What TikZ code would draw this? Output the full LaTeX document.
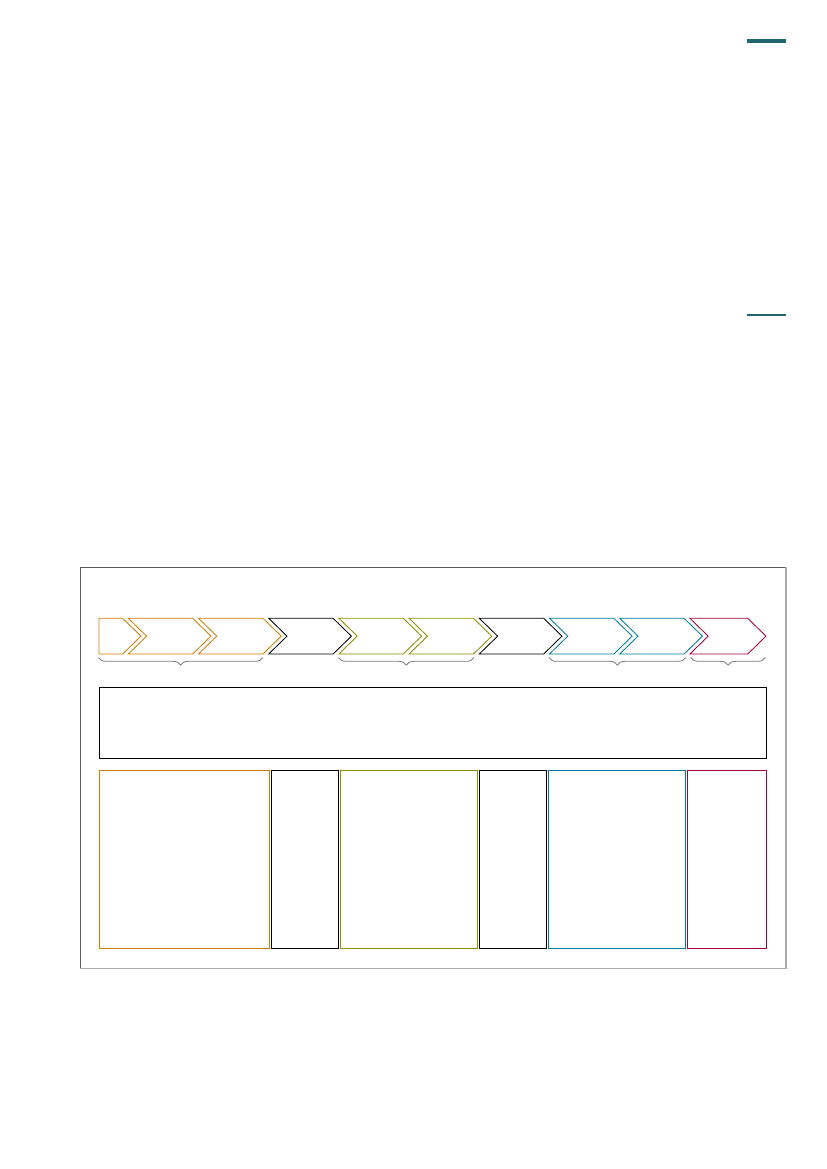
\documentclass[tikz,border=0pt]{standalone}
\usetikzlibrary{decorations.pathreplacing}
\definecolor{corange}{RGB}{206,124,10}
\definecolor{colive}{RGB}{138,142,0}
\definecolor{cblue}{RGB}{0,122,160}
\definecolor{cmag}{RGB}{164,0,60}
\definecolor{cteal}{RGB}{32,102,112}
\definecolor{framedark}{RGB}{90,90,90}
\definecolor{framelight}{RGB}{170,170,170}
\begin{document}
\begin{tikzpicture}[x=0.7198pt,y=-0.7198pt,
  chev/.style={line width=0.6pt,line join=miter},
  colbox/.style={draw,line width=0.8pt,inner sep=0pt},
  bracestyle/.style={decorate,decoration={brace,mirror,amplitude=5.5pt},draw=gray,line width=0.6pt}]
\useasboundingbox (0,0) rectangle (827,1169);
% teal rules
\draw[cteal,line width=2.6pt] (747,40.7) -- (786,40.7);
\draw[cteal,line width=1.5pt] (747,314.7) -- (786,314.7);
% outer frame
\draw[framedark,line width=0.8pt] (80.3,968.5) -- (80.3,567.3) -- (786,567.3);
\draw[framelight,line width=1.2pt] (786,567.3) -- (786,968.5) -- (80.3,968.5);
% chevrons
\def\chyt{618.3}\def\chyb{654}\def\chym{636.15}\def\chdd{18.3}
% first (flat left)
\draw[chev,corange] (99,\chyt) -- (122.7,\chyt) -- (141,\chym) -- (122.7,\chyb) -- (99,\chyb) -- cycle;
\foreach \L/\W/\c in {128.3/64.4/corange,198.5/64.4/corange,268.7/64.4/black,338.9/64.4/colive,409.1/64.4/colive,479.3/64.4/black,549.5/64.4/cblue,619.7/64.4/cblue,689.9/57.8/cmag}{
  \draw[chev,\c] (\L,\chyt) -- ({\L+\W},\chyt) -- ({\L+\W+\chdd},\chym) -- ({\L+\W},\chyb) -- (\L,\chyb) -- ({\L+\chdd},\chym) -- cycle;
}
% braces
\coordinate (b1a) at (98.5,657.5); \coordinate (b1b) at (262.7,657.5);
\coordinate (b2a) at (338.5,657.5); \coordinate (b2b) at (474,657.5);
\coordinate (b3a) at (549,657.5); \coordinate (b3b) at (685.7,657.5);
\coordinate (b4a) at (690.7,657.5); \coordinate (b4b) at (765.3,657.5);
\draw[bracestyle] (b1a) -- (b1b);
\draw[bracestyle] (b2a) -- (b2b);
\draw[bracestyle] (b3a) -- (b3b);
\draw[bracestyle] (b4a) -- (b4b);
% text box
\node[colbox,black,anchor=north west,minimum width={667*0.7198pt},minimum height={70.7*0.7198pt}] (textbox) at (99.3,687.3) {};
% columns
\node[colbox,corange,anchor=north west,minimum width={169.4*0.7198pt},minimum height={178*0.7198pt}] (c1) at (99.3,770.3) {};
\node[colbox,black,anchor=north west,minimum width={66.7*0.7198pt},minimum height={178*0.7198pt}] (c2) at (271,770.3) {};
\node[colbox,colive,anchor=north west,minimum width={136.4*0.7198pt},minimum height={178*0.7198pt}] (c3) at (340.3,770.3) {};
\node[colbox,black,anchor=north west,minimum width={67*0.7198pt},minimum height={178*0.7198pt}] (c4) at (479.3,770.3) {};
\node[colbox,cblue,anchor=north west,minimum width={136.4*0.7198pt},minimum height={178*0.7198pt}] (c5) at (548.3,770.3) {};
\node[colbox,cmag,anchor=north west,minimum width={78.4*0.7198pt},minimum height={178*0.7198pt}] (c6) at (687.3,770.3) {};
\end{tikzpicture}
\end{document}
